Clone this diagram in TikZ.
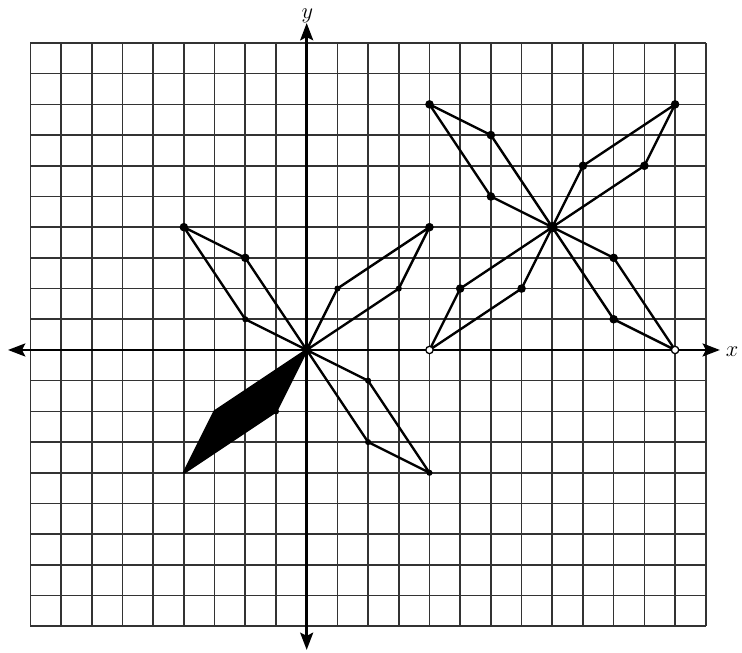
\documentclass[tikz,border=0pt]{standalone}
\usetikzlibrary{arrows.meta}
\begin{document}
\begin{tikzpicture}[x=1cm,y=1cm,
  gridline/.style={line width=1.5pt,draw=black!80},
  axisline/.style={line width=2.4pt,draw=black,-{Stealth[length=16pt,width=12pt,inset=3pt]}},
  shapeline/.style={line width=2.2pt,draw=black,line join=round},
  bigdot/.style={fill=black},
  opendot/.style={fill=white,draw=black,line width=1.2pt}]
\useasboundingbox[fill=white] (-9.99,-9.84) rectangle (14.18,11.40);
% grid
\draw[gridline] (-9,-9) grid (13,10);
% axes
\coordinate (O) at (0,0);
\coordinate (xl) at (-9.73,0);
\coordinate (xr) at (13.46,0);
\coordinate (yt) at (0,10.65);
\coordinate (yb) at (0,-9.77);
\draw[axisline] (O) -- (xl);
\draw[axisline] (O) -- (xr);
\draw[axisline] (O) -- (yt);
\draw[axisline] (O) -- (yb);
\node[inner sep=0pt,anchor=base] (ylab) at (0.02,10.80) {\fontsize{20}{20}\selectfont $y$};
\node[inner sep=0pt] (xlab) at (13.86,-0.05) {\fontsize{20}{20}\selectfont $x$};
% left figure
\coordinate (a1) at (-2,1); \coordinate (a2) at (-4,4); \coordinate (a3) at (-2,3);
\coordinate (b1) at (1,2);  \coordinate (b2) at (4,4);  \coordinate (b3) at (3,2);
\coordinate (c1) at (2,-1); \coordinate (c2) at (4,-4); \coordinate (c3) at (2,-3);
\coordinate (d1) at (-1,-2); \coordinate (d2) at (-4,-4); \coordinate (d3) at (-3,-2);
\draw[shapeline] (O) -- (a1) -- (a2) -- (a3) -- cycle;
\draw[shapeline] (O) -- (b1) -- (b2) -- (b3) -- cycle;
\draw[shapeline] (O) -- (c1) -- (c2) -- (c3) -- cycle;
\filldraw[shapeline,fill=black] (O) -- (d1) -- (d2) -- (d3) -- cycle;
% right figure
\coordinate (C) at (8,4);
\coordinate (e1) at (6,5);  \coordinate (e2) at (4,8);  \coordinate (e3) at (6,7);
\coordinate (f1) at (9,6);  \coordinate (f2) at (12,8); \coordinate (f3) at (11,6);
\coordinate (g1) at (10,3); \coordinate (g2) at (12,0); \coordinate (g3) at (10,1);
\coordinate (h1) at (7,2);  \coordinate (h2) at (4,0);  \coordinate (h3) at (5,2);
\draw[shapeline] (C) -- (e1) -- (e2) -- (e3) -- cycle;
\draw[shapeline] (C) -- (f1) -- (f2) -- (f3) -- cycle;
\draw[shapeline] (C) -- (g1) -- (g2) -- (g3) -- cycle;
\draw[shapeline] (C) -- (h1) -- (h2) -- (h3) -- cycle;
% dots
\foreach \p in {a2,a3,b2,e2,e3,e1,f2,f1,f3,g1,g3,h1,h3}
  \fill[bigdot] (\p) circle (0.14);
\foreach \p in {a1,b1,b3,c1,c3,c2,d1}
  \fill[bigdot] (\p) circle (0.10);
\fill[bigdot] (O) circle (0.15);
\fill[bigdot] (C) circle (0.17);
\foreach \p in {g2,h2}
  \draw[opendot] (\p) circle (0.12);
\end{tikzpicture}
\end{document}
